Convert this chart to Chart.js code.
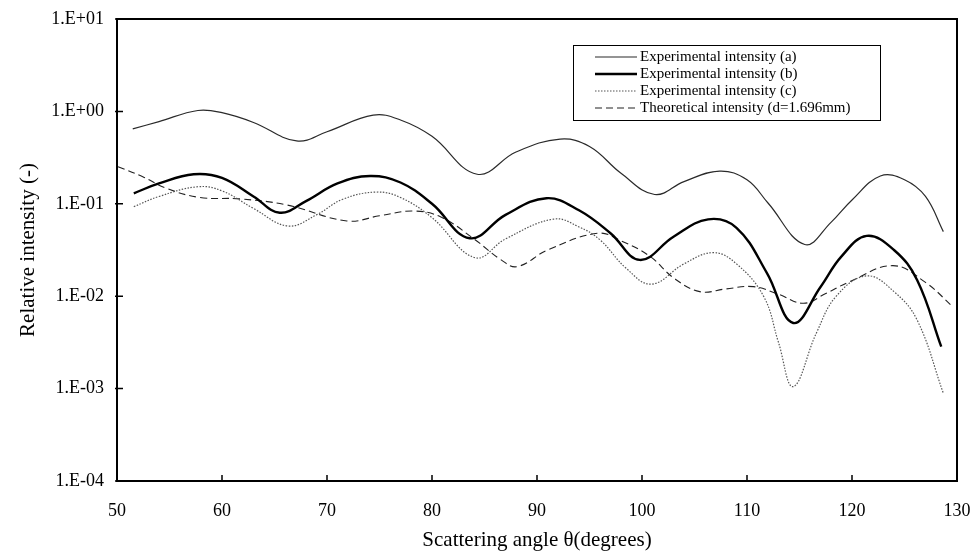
<!DOCTYPE html>
<html>
<head>
<meta charset="utf-8">
<script src="https://cdn.jsdelivr.net/npm/chart.js@4.4.1/dist/chart.umd.min.js"></script>
<style>
  body { margin: 0; background: #fff; }
  canvas { display: block; }
</style>
</head>
<body>
<canvas id="scatterChart" width="974" height="556"></canvas>
<script>
// curve (a)
const angleA = [51.5, 54, 57.7, 60, 63, 67.1, 70, 74.4, 77, 80, 84.3, 88, 92.2, 95, 98, 101.2, 104, 107.4, 110, 112, 115.5, 118, 120, 122.7, 125, 127, 128.7];
const intensityA = [0.646, 0.776, 1.023, 0.968, 0.759, 0.479, 0.603, 0.912, 0.807, 0.537, 0.209, 0.363, 0.501, 0.417, 0.214, 0.126, 0.174, 0.226, 0.182, 0.102, 0.0363, 0.063, 0.11, 0.2, 0.182, 0.12, 0.05];

// curve (b)
const angleB = [51.6, 54, 57.3, 60, 63, 65.5, 68, 71, 74.1, 77, 80, 83.6, 87, 90.9, 94, 97, 99.8, 103, 106.3, 109, 111.9, 114.4, 117, 119, 121.4, 124, 126.2, 128.5];
const intensityB = [0.130, 0.166, 0.209, 0.191, 0.120, 0.080, 0.107, 0.166, 0.200, 0.170, 0.100, 0.0424, 0.0759, 0.115, 0.085, 0.048, 0.0247, 0.044, 0.0679, 0.055, 0.0178, 0.00513, 0.0126, 0.027, 0.0449, 0.0316, 0.0150, 0.00284];

// curve (c)
const angleC = [51.6, 54, 57.7, 60, 63, 66.3, 69, 71.5, 74.7, 77, 80, 84.1, 87, 91.6, 94, 96, 98.5, 100.9, 104, 106.8, 109, 111.6, 113, 114.4, 116.6, 118.5, 121.4, 124, 126.2, 128.7];
const intensityC = [0.0931, 0.120, 0.153, 0.138, 0.0891, 0.0575, 0.0759, 0.112, 0.134, 0.117, 0.0708, 0.0261, 0.0417, 0.0684, 0.0562, 0.0407, 0.0200, 0.0135, 0.0224, 0.0296, 0.0224, 0.00989, 0.00316, 0.00105, 0.00398, 0.0100, 0.0166, 0.0112, 0.00553, 0.00089];

// theoretical
const angleT = [50.1, 52.5, 54.7, 57.9, 61.7, 66.2, 71.9, 75, 78.2, 80.8, 84, 86.5, 88.1, 91, 95.8, 98, 100.8, 103, 105.5, 108, 110.6, 113, 115.4, 117.5, 119.8, 123.9, 127, 129.6];
const intensityT = [0.252, 0.195, 0.147, 0.117, 0.113, 0.0970, 0.0652, 0.0741, 0.0836, 0.0724, 0.0417, 0.0251, 0.0209, 0.0316, 0.0480, 0.0398, 0.0268, 0.0158, 0.0112, 0.0120, 0.0127, 0.0105, 0.00838, 0.0107, 0.0144, 0.0214, 0.0141, 0.00769];

const yTicks = [0.0001, 0.001, 0.01, 0.1, 1, 10];

function pts(xs, ys) {
  return xs.map((x, i) => ({ x: x, y: ys[i] }));
}

function sciLabel(v) {
  const e = Math.round(Math.log10(v));
  return "1.E" + (e >= 0 ? "+" : "-") + String(Math.abs(e)).padStart(2, "0");
}

// box round the plot, inward ticks and the legend
const frame = {
  id: "frame",
  afterDatasetsDraw(chart) {
    const { ctx, chartArea: a, scales } = chart;
    ctx.save();
    ctx.strokeStyle = "#000";
    ctx.lineWidth = 2;
    ctx.strokeRect(a.left, a.top, a.right - a.left, a.bottom - a.top);
    ctx.lineWidth = 1.5;
    ctx.beginPath();
    scales.x.ticks.forEach((t) => {
      const px = scales.x.getPixelForValue(t.value);
      ctx.moveTo(px, a.bottom);
      ctx.lineTo(px, a.bottom - 6);
    });
    scales.y.ticks.forEach((t) => {
      const py = scales.y.getPixelForValue(t.value);
      ctx.moveTo(a.left - 2, py);
      ctx.lineTo(a.left + 6, py);
    });
    ctx.stroke();

    // legend
    const bx = 573, by = 45, bw = 307, bh = 75;
    ctx.fillStyle = "#fff";
    ctx.fillRect(bx, by, bw, bh);
    ctx.lineWidth = 1;
    ctx.strokeStyle = "#000";
    ctx.strokeRect(bx + 0.5, by + 0.5, bw, bh);
    ctx.font = "15px 'Liberation Serif'";
    ctx.textBaseline = "middle";
    chart.data.datasets.forEach((ds, i) => {
      const y = by + 12 + i * 17;
      ctx.beginPath();
      ctx.setLineDash(ds.borderDash || []);
      ctx.lineWidth = ds.borderWidth;
      ctx.strokeStyle = ds.borderColor;
      ctx.moveTo(bx + 22, y);
      ctx.lineTo(bx + 64, y);
      ctx.stroke();
      ctx.setLineDash([]);
      ctx.fillStyle = "#000";
      ctx.fillText(ds.label, bx + 67, y);
    });
    ctx.restore();
  },
};

const data = {
  datasets: [
    {
      label: "Experimental intensity (a)",
      data: pts(angleA, intensityA),
      borderColor: "#2a2a2a",
      borderWidth: 1.2,
    },
    {
      label: "Experimental intensity (b)",
      data: pts(angleB, intensityB),
      borderColor: "#000",
      borderWidth: 2.4,
    },
    {
      label: "Experimental intensity (c)",
      data: pts(angleC, intensityC),
      borderColor: "#555",
      borderWidth: 1.2,
      borderDash: [1.5, 1.5],
    },
    {
      label: "Theoretical intensity (d=1.696mm)",
      data: pts(angleT, intensityT),
      borderColor: "#222",
      borderWidth: 1.1,
      borderDash: [7, 4],
    },
  ],
};

const config = {
  type: "scatter",
  data: data,
  options: {
    responsive: false,
    animation: false,
    devicePixelRatio: 1,
    showLine: true,
    elements: {
      point: { radius: 0 },
      line: { tension: 0.4, fill: false },
    },
    layout: { padding: { top: 19, right: 17, left: 0, bottom: 0 } },
    plugins: {
      legend: { display: false },
      tooltip: { enabled: false },
    },
    scales: {
      x: {
        type: "linear",
        min: 50,
        max: 130,
        grid: { display: false },
        border: { display: false },
        ticks: {
          stepSize: 10,
          padding: 11,
          color: "#000",
          font: { family: "Liberation Serif", size: 18 },
        },
        title: {
          display: true,
          text: "Scattering angle θ(degrees)",
          color: "#000",
          font: { family: "Liberation Serif", size: 21 },
          padding: { top: 3, bottom: 3 },
        },
        afterFit(scale) {
          scale.height = 75;
          scale.paddingLeft = 0;
          scale.paddingRight = 0;
        },
      },
      y: {
        type: "logarithmic",
        min: 0.0001,
        max: 10,
        grid: { display: false },
        border: { display: false },
        afterBuildTicks(axis) {
          axis.ticks = yTicks.map((v) => ({ value: v }));
        },
        ticks: {
          padding: 5,
          color: "#000",
          font: { family: "Liberation Serif", size: 18 },
          callback: (v) => sciLabel(v),
        },
        title: {
          display: true,
          text: "Relative intensity (-)",
          color: "#000",
          font: { family: "Liberation Serif", size: 21 },
          padding: { top: 16, bottom: 0 },
        },
        afterFit(scale) {
          scale.width = 117;
          scale.paddingTop = 0;
          scale.paddingBottom = 0;
        },
      },
    },
  },
  plugins: [frame],
};

let myChart = new Chart(document.getElementById("scatterChart"), config);
</script>
</body>
</html>
